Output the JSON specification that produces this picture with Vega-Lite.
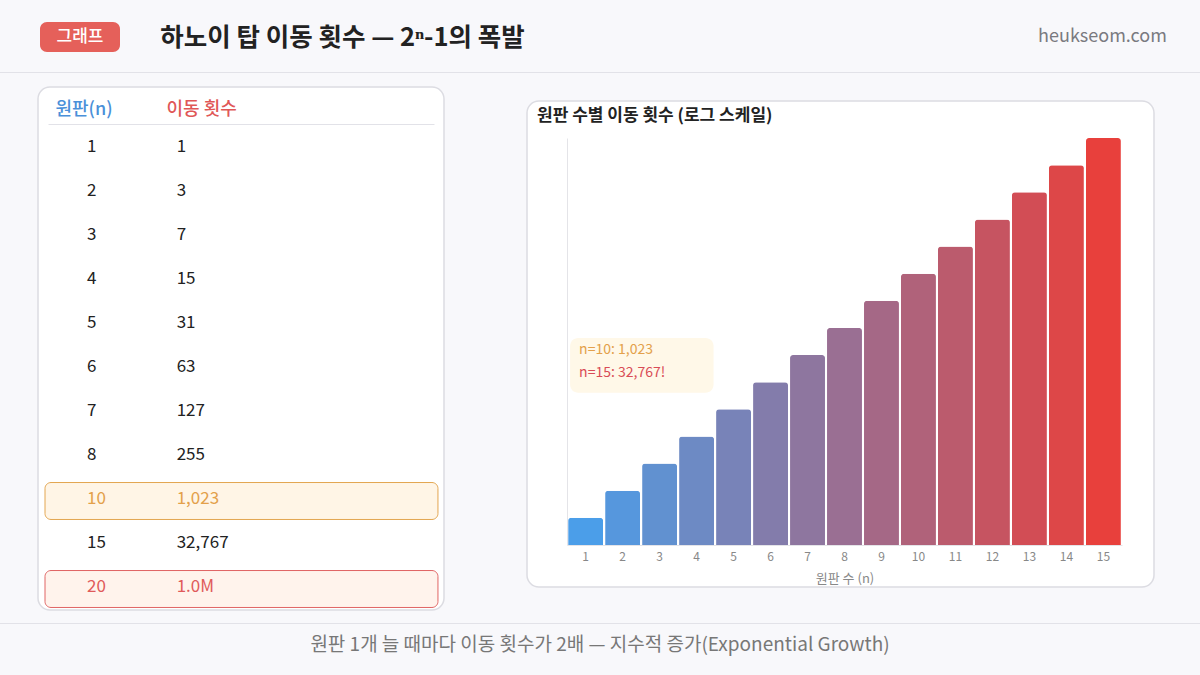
{
  "$schema": "https://vega.github.io/schema/vega-lite/v6.json",
  "description": "하노이 탑 이동 횟수 — 원판 수별 2^n-1",
  "background": "#f8f8fb",
  "padding": {"top": 22, "bottom": 9, "left": 0, "right": 0},
  "config": {
    "font": "Noto Sans CJK KR",
    "view": {"stroke": null},
    "concat": {"spacing": 0}
  },
  "datasets": {
    "table": [
      {"n": 1, "moves": 1},
      {"n": 2, "moves": 3},
      {"n": 3, "moves": 7},
      {"n": 4, "moves": 15},
      {"n": 5, "moves": 31},
      {"n": 6, "moves": 63},
      {"n": 7, "moves": 127},
      {"n": 8, "moves": 255},
      {"n": 10, "moves": 1023},
      {"n": 15, "moves": 32767},
      {"n": 20, "moves": 1048575}
    ],
    "bars": [
      {"n": 1, "moves": 1},
      {"n": 2, "moves": 3},
      {"n": 3, "moves": 7},
      {"n": 4, "moves": 15},
      {"n": 5, "moves": 31},
      {"n": 6, "moves": 63},
      {"n": 7, "moves": 127},
      {"n": 8, "moves": 255},
      {"n": 9, "moves": 511},
      {"n": 10, "moves": 1023},
      {"n": 11, "moves": 2047},
      {"n": 12, "moves": 4095},
      {"n": 13, "moves": 8191},
      {"n": 14, "moves": 16383},
      {"n": 15, "moves": 32767}
    ],
    "notes": [
      {"n": 10, "label": "n=10: 1,023"},
      {"n": 15, "label": "n=15: 32,767!"}
    ]
  },
  "spacing": 0,
  "vconcat": [
    {
      "spacing": 0,
      "hconcat": [
        {"width": 40, "height": 30, "data": {"values": []}, "mark": "point"},
        {
          "width": 80,
          "height": 30,
          "view": {"fill": "#e5605a", "cornerRadius": 7},
          "data": {"values": [{"label": "그래프"}]},
          "mark": {"type": "text", "color": "white", "fontSize": 17, "fontWeight": 500},
          "encoding": {"text": {"field": "label"}}
        },
        {"width": 40, "height": 30, "data": {"values": []}, "mark": "point"},
        {
          "width": 363,
          "height": 30,
          "data": {"values": [{"label": "하노이 탑 이동 횟수 — 2ⁿ-1의 폭발"}]},
          "mark": {"type": "text", "color": "#222222", "fontSize": 25.5, "fontWeight": "bold", "dy": 1},
          "encoding": {"text": {"field": "label"}}
        },
        {"width": 513, "height": 30, "data": {"values": []}, "mark": "point"},
        {
          "width": 125,
          "height": 30,
          "data": {"values": [{"label": "heukseom.com"}]},
          "mark": {"type": "text", "color": "#7a7a80", "fontSize": 18},
          "encoding": {"text": {"field": "label"}}
        }
      ]
    },
    {"width": 1200, "height": 20, "data": {"values": []}, "mark": "point"},
    {"width": 1200, "height": 1, "view": {"fill": "#e2e2e8"}, "data": {"values": []}, "mark": "point"},
    {"width": 1200, "height": 13, "data": {"values": []}, "mark": "point"},
    {
      "spacing": 0,
      "hconcat": [
        {"width": 37, "height": 10, "data": {"values": []}, "mark": "point"},
        {
          "width": 406,
          "height": 523,
          "view": {"fill": "white", "stroke": "#dcdce2", "strokeWidth": 1.5, "cornerRadius": 12},
          "data": {"name": "table"},
          "layer": [
            {
              "transform": [{"filter": {"field": "n", "oneOf": [10, 20]}}],
              "mark": {"type": "rect", "cornerRadius": 6, "strokeWidth": 1, "xOffset": -3, "x2Offset": 261.3},
              "encoding": {
                "x": {
                  "datum": "원판(n)",
                  "type": "nominal",
                  "scale": {"type": "point", "domain": ["원판(n)", "이동 횟수"], "range": [10, 396], "padding": 1, "align": 0},
                  "axis": {
                    "orient": "top",
                    "offset": -37,
                    "title": null,
                    "ticks": false,
                    "tickSize": 0,
                    "labelAngle": 0,
                    "labelAlign": "left",
                    "labelBaseline": "bottom",
                    "labelPadding": 6,
                    "labelOffset": {"condition": {"test": "datum.value === '이동 횟수'", "value": -10.7}, "value": 7},
                    "labelFontSize": 18,
                    "labelFontWeight": 500,
                    "labelColor": {"condition": {"test": "datum.value === '원판(n)'", "value": "#4a90d9"}, "value": "#e05757"},
                    "domainColor": "#e2e2e8",
                    "labelBound": false,
                    "labelFlush": false,
                    "labelOverlap": false
                  }
                },
                "x2": {"datum": "이동 횟수"},
                "y": {
                  "field": "n",
                  "type": "ordinal",
                  "scale": {"type": "band", "domain": [1, 2, 3, 4, 5, 6, 7, 8, 10, 15, 20], "range": [40, 524], "paddingInner": 0.16, "paddingOuter": 0.08},
                  "axis": null
                },
                "fill": {"condition": {"test": "datum.n === 10", "value": "#fff5e6"}, "value": "#fff3ec"},
                "stroke": {"condition": {"test": "datum.n === 10", "value": "#e3a650"}, "value": "#e06464"}
              }
            },
            {
              "mark": {"type": "text", "align": "left", "dx": 39, "dy": -2, "fontSize": 17},
              "encoding": {
                "x": {"datum": "원판(n)", "type": "nominal"},
                "y": {"field": "n", "type": "ordinal"},
                "text": {"field": "n", "type": "nominal"},
                "color": {
                  "condition": [
                    {"test": "datum.n === 10", "value": "#e3a04a"},
                    {"test": "datum.n === 20", "value": "#e05a5a"}
                  ],
                  "value": "#222222"
                }
              }
            },
            {
              "mark": {"type": "text", "align": "left", "dx": 0, "dy": -2, "fontSize": 17},
              "encoding": {
                "x": {"datum": "이동 횟수", "type": "nominal"},
                "y": {"field": "n", "type": "ordinal"},
                "text": {
                  "condition": {"test": "datum.moves >= 1000000", "field": "moves", "type": "quantitative", "format": ".2s"},
                  "field": "moves",
                  "type": "quantitative",
                  "format": ","
                },
                "color": {
                  "condition": [
                    {"test": "datum.n === 10", "value": "#e3a04a"},
                    {"test": "datum.n === 20", "value": "#e05a5a"}
                  ],
                  "value": "#222222"
                }
              }
            }
          ]
        },
        {"width": 81, "height": 10, "data": {"values": []}, "mark": "point"},
        {
          "spacing": 0,
          "vconcat": [
            {"width": 627, "height": 13, "data": {"values": []}, "mark": "point"},
            {
              "width": 627,
              "height": 486,
              "view": {"fill": "white", "stroke": "#dcdce2", "strokeWidth": 1.5, "cornerRadius": 12},
              "title": {
                "text": "원판 수별 이동 횟수 (로그 스케일)",
                "anchor": "start",
                "frame": "group",
                "offset": -24,
                "dx": 10,
                "fontSize": 17,
                "fontWeight": "bold",
                "color": "#222222"
              },
              "layer": [
                {
                  "data": {"name": "bars"},
                  "mark": {"type": "bar", "cornerRadiusTopLeft": 3, "cornerRadiusTopRight": 3},
                  "encoding": {
                    "x": {
                      "field": "n",
                      "type": "ordinal",
                      "scale": {"domain": [1, 2, 3, 4, 5, 6, 7, 8, 9, 10, 11, 12, 13, 14, 15], "range": [40, 595], "paddingInner": 0.055, "paddingOuter": 0.03},
                      "axis": {
                        "orient": "bottom",
                        "offset": -42,
                        "title": "원판 수 (n)",
                        "titleFontSize": 13,
                        "titleFontWeight": "normal",
                        "titleColor": "#888888",
                        "titlePadding": 10,
                        "labelFontSize": 12,
                        "labelColor": "#888888",
                        "labelAngle": 0,
                        "labelPadding": 6,
                        "ticks": false,
                        "tickSize": 0,
                        "domainColor": "#e4e4e8",
                        "grid": false
                      }
                    },
                    "y": {
                      "field": "moves",
                      "type": "quantitative",
                      "scale": {"type": "symlog", "domain": [0, 32767], "range": [444, 37], "nice": false},
                      "axis": {
                        "orient": "left",
                        "offset": -40,
                        "labels": false,
                        "ticks": false,
                        "tickSize": 0,
                        "title": null,
                        "grid": false,
                        "domainColor": "#e4e4e8"
                      }
                    },
                    "color": {
                      "field": "n",
                      "type": "quantitative",
                      "scale": {"range": ["#4b9ee9", "#e8403c"], "interpolate": "rgb"},
                      "legend": null
                    }
                  }
                },
                {
                  "data": {"values": [{"note": "box"}]},
                  "mark": {"type": "rect", "color": "#fff8e8", "cornerRadius": 8, "xOffset": 2, "x2Offset": 17},
                  "encoding": {
                    "x": {"datum": 1, "type": "ordinal", "bandPosition": 0},
                    "x2": {"datum": 4},
                    "y": {"datum": 48, "type": "quantitative"},
                    "y2": {"datum": 197}
                  }
                },
                {
                  "data": {"name": "notes"},
                  "transform": [{"filter": "datum.n === 10"}],
                  "mark": {"type": "text", "align": "left", "dx": 11, "fontSize": 14, "color": "#e3a04a"},
                  "encoding": {
                    "x": {"datum": 1, "type": "ordinal", "bandPosition": 0},
                    "y": {"datum": 145, "type": "quantitative"},
                    "text": {"field": "label"}
                  }
                },
                {
                  "data": {"name": "notes"},
                  "transform": [{"filter": "datum.n === 15"}],
                  "mark": {"type": "text", "align": "left", "dx": 11, "fontSize": 14, "color": "#d94c56"},
                  "encoding": {
                    "x": {"datum": 1, "type": "ordinal", "bandPosition": 0},
                    "y": {"datum": 80, "type": "quantitative"},
                    "text": {"field": "label"}
                  }
                }
              ]
            }
          ]
        }
      ]
    },
    {"width": 1200, "height": 12, "data": {"values": []}, "mark": "point"},
    {"width": 1200, "height": 1, "view": {"fill": "#e2e2e8"}, "data": {"values": []}, "mark": "point"},
    {
      "width": 1200,
      "height": 42,
      "data": {"values": [{"label": "원판 1개 늘 때마다 이동 횟수가 2배 — 지수적 증가(Exponential Growth)"}]},
      "mark": {"type": "text", "color": "#777777", "fontSize": 19},
      "encoding": {"text": {"field": "label"}}
    }
  ]
}
